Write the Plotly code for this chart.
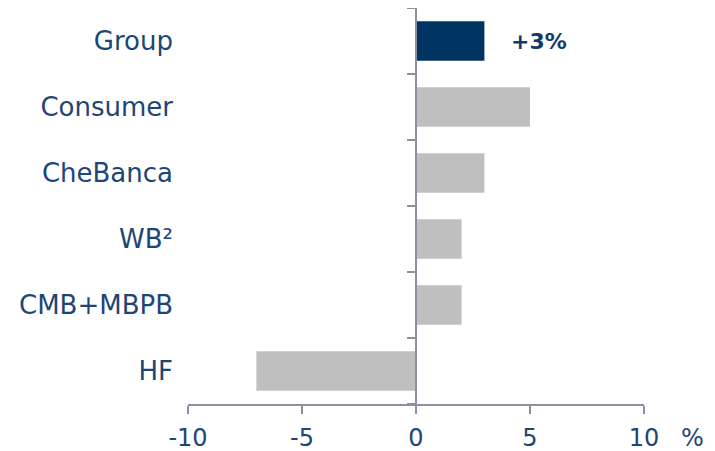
import plotly.graph_objects as go

categories = ["Group", "Consumer", "CheBanca", "WB²", "CMB+MBPB", "HF"]
values = [3, 5, 3, 2, 2, -7]
bar_colors = ["#003462", "#BFBFBF", "#BFBFBF", "#BFBFBF", "#BFBFBF", "#BFBFBF"]
x_ticks = [-10, -5, 0, 5, 10]
group_label = "+3%"

text_color = "#1D4676"
axis_color = "#8C90A2"
font_family = "'DejaVu Sans', sans-serif"

fig = go.Figure()
fig.add_trace(go.Bar(
    y=categories, x=values, orientation="h",
    marker=dict(color=bar_colors, line=dict(width=0)),
    width=0.6, hoverinfo="skip",
))
# invisible trace to carry the zero-position axis with boundary ticks
fig.add_trace(go.Bar(
    y=categories, x=[0] * len(categories), orientation="h",
    yaxis="y2", marker=dict(color="rgba(0,0,0,0)"), showlegend=False, hoverinfo="skip",
))

fig.update_layout(
    width=707, height=443,
    margin=dict(l=180, r=71, t=0, b=47),
    plot_bgcolor="white", paper_bgcolor="white",
    showlegend=False, bargap=0.4,
    font=dict(family=font_family, color=text_color, size=24),
    xaxis=dict(
        range=[-10, 10], tickvals=x_ticks, ticktext=[str(t) for t in x_ticks],
        showgrid=False, zeroline=False, automargin=False,
        showline=True, linecolor=axis_color, linewidth=2,
        ticks="outside", ticklen=8, tickwidth=2, tickcolor=axis_color,
        ticklabelstandoff=3,
        tickfont=dict(size=24, color=text_color),
    ),
    yaxis=dict(
        categoryorder="array", categoryarray=categories[::-1],
        autorange=False, range=[-0.5, len(categories) - 0.5],
        showgrid=False, zeroline=False, showline=False, ticks="",
        ticklabelstandoff=14, automargin=False,
        tickfont=dict(size=26, color=text_color),
    ),
    yaxis2=dict(
        overlaying="y", matches="y", anchor="free", position=0.5, side="left",
        categoryorder="array", categoryarray=categories[::-1],
        showgrid=False, zeroline=False, showticklabels=False, automargin=False,
        showline=True, linecolor=axis_color, linewidth=2,
        ticks="outside", tickson="boundaries", ticklen=8, tickwidth=2, tickcolor=axis_color,
    ),
)

fig.add_annotation(
    x=values[0] + 2.4, y=categories[0], xref="x", yref="y",
    text="<b>" + group_label + "</b>", showarrow=False,
    font=dict(size=22, color="#123A68", family=font_family),
)
fig.add_annotation(
    x=1.0, y=0, xref="paper", yref="paper", xanchor="center", yanchor="middle",
    xshift=48, yshift=-34,
    text="%", showarrow=False,
    font=dict(size=24, color=text_color, family=font_family),
)

fig.write_html("out.html")
